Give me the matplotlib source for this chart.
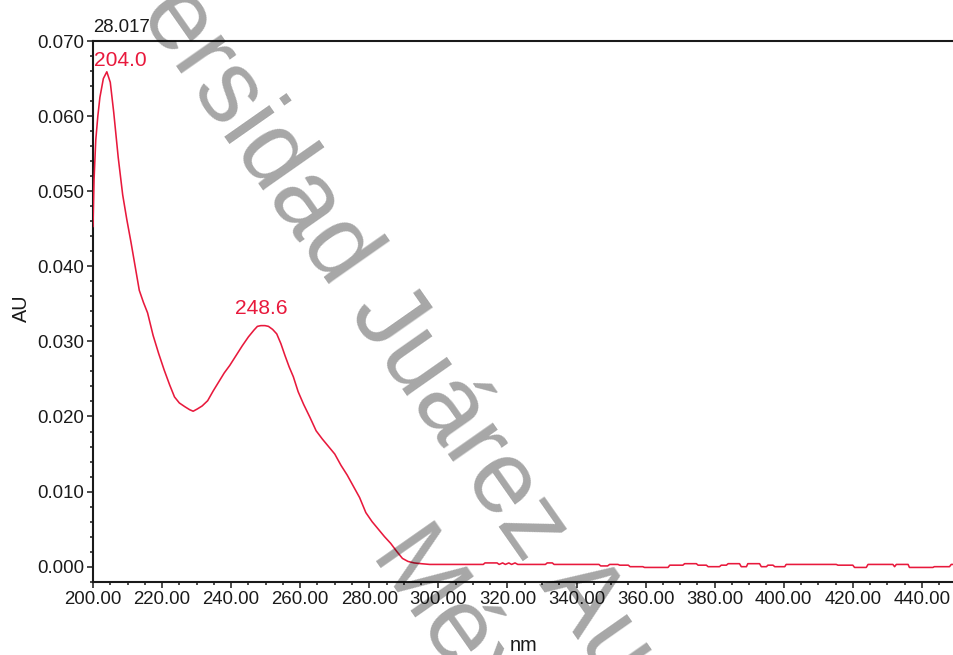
import matplotlib
matplotlib.use("Agg")
import matplotlib.pyplot as plt
from matplotlib import font_manager
from matplotlib.ticker import MultipleLocator, FormatStrFormatter

# UV absorption spectrum (wavelength in nm, absorbance in AU)
wavelength = [
    200.0, 200.3, 200.8, 201.4, 202.0, 203.0, 204.0, 205.0, 206.0, 207.3,
    208.6, 209.8, 211.0, 212.2, 213.4, 214.6, 215.8, 217.4, 219.0, 220.6,
    222.2, 223.6, 225.0, 226.6, 228.0, 229.0, 230.2, 231.6, 233.2, 234.8,
    236.4, 238.0, 239.6, 241.4, 243.2, 245.0, 246.6, 247.6, 248.6, 249.8,
    250.8, 252.0, 253.2, 254.4, 255.6, 256.8, 258.0, 259.4, 261.0, 262.8,
    264.6, 266.4, 268.2, 270.0, 271.8, 273.6, 275.4, 277.2, 279.0, 280.8,
    282.6, 284.4, 286.2, 288.0, 289.6, 291.2, 293.0, 295.0, 297.5, 313.0,
    313.5, 317.0, 317.6, 318.6, 319.4, 320.4, 321.2, 322.2, 323.0, 331.0,
    331.5, 333.0, 333.5, 346.5, 347.0, 349.0, 349.6, 352.0, 352.5, 355.0,
    355.5, 359.2, 359.7, 366.5, 367.0, 370.8, 371.3, 374.7, 375.2, 377.6,
    378.1, 381.4, 381.9, 383.4, 383.9, 387.2, 387.7, 389.2, 389.6, 393.0,
    393.5, 395.0, 395.4, 396.9, 397.4, 400.3, 400.7, 415.2, 415.7, 420.0,
    420.5, 423.9, 424.4, 431.6, 432.1, 432.6, 436.0, 436.4, 443.2, 443.6,
    448.0, 448.5, 449.3,
]
absorbance = [
    0.0453, 0.0515, 0.0568, 0.0600, 0.0625, 0.0650, 0.0659, 0.0645, 0.0605, 0.0545,
    0.0495, 0.0462, 0.0432, 0.0400, 0.0368, 0.0352, 0.0338, 0.0308, 0.0284, 0.0262,
    0.0242, 0.0226, 0.0218, 0.0213, 0.0209, 0.0207, 0.0210, 0.0214, 0.0221, 0.0234,
    0.0246, 0.0258, 0.0268, 0.0281, 0.0294, 0.0306, 0.0315, 0.0320, 0.0321, 0.0321,
    0.0320, 0.0316, 0.0310, 0.0297, 0.0281, 0.0266, 0.0253, 0.0233, 0.0216, 0.0199,
    0.0181, 0.0170, 0.0160, 0.0150, 0.0135, 0.0122, 0.0107, 0.0092, 0.0072, 0.0060,
    0.0050, 0.0040, 0.0031, 0.0020, 0.0011, 0.0007, 0.0005, 0.0004, 0.0003, 0.0003,
    0.0005, 0.0005, 0.0003, 0.0005, 0.0003, 0.0005, 0.0003, 0.0005, 0.0003, 0.0003,
    0.0005, 0.0005, 0.0003, 0.0003, 0.0001, 0.0001, 0.0003, 0.0003, 0.0002, 0.0002,
    0.0000, 0.0000, -0.0001, -0.0001, 0.0002, 0.0002, 0.0004, 0.0004, 0.0002, 0.0002,
    0.0000, 0.0000, 0.0002, 0.0002, 0.0004, 0.0004, 0.0000, 0.0000, 0.0004, 0.0004,
    0.0000, 0.0000, 0.0002, 0.0002, 0.0000, 0.0000, 0.0003, 0.0003, 0.0002, 0.0002,
    -0.0001, -0.0001, 0.0003, 0.0003, 0.0000, 0.0003, 0.0003, -0.0001, -0.0001, 0.0000,
    0.0000, 0.0003, 0.0003,
]

# Labelled maxima
peak_wl = [204.0, 248.6]
peak_au = [0.0659, 0.0321]
peak_offsets = [(9.5, 1.5), (0.5, 5.5)]   # label offsets in points

retention_time = "28.017"
x_ticks = [200, 220, 240, 260, 280, 300, 320, 340, 360, 380, 400, 420, 440]
y_ticks = [0.000, 0.010, 0.020, 0.030, 0.040, 0.050, 0.060, 0.070]

RED = "#e8193c"
INK = "#1a1a1a"

available = {f.name for f in font_manager.fontManager.ttflist}
if "Liberation Sans Narrow" in available:
    label_font, scale = "Liberation Sans Narrow", 1.0
else:
    label_font, scale = "Liberation Sans", 0.84

fig = plt.figure(figsize=(9.54, 6.55), dpi=100)
ax = fig.add_axes([93 / 954, 73 / 655, 861 / 954, 541 / 655])

ax.plot(wavelength, absorbance, color=RED, lw=1.15, solid_joinstyle="round", zorder=3)

ax.set_xlim(200, 449.3)
ax.set_ylim(-0.00204, 0.070)

ax.set_xticks(x_ticks)
ax.set_yticks(y_ticks)
ax.xaxis.set_minor_locator(MultipleLocator(5))
ax.yaxis.set_minor_locator(MultipleLocator(0.002))
ax.xaxis.set_major_formatter(FormatStrFormatter("%.2f"))
ax.yaxis.set_major_formatter(FormatStrFormatter("%.3f"))

for side in ("top", "left", "bottom"):
    ax.spines[side].set_linewidth(1.5)
    ax.spines[side].set_color(INK)
ax.spines["right"].set_visible(False)

ax.tick_params(which="major", direction="out", length=4.3, width=1.1, color=INK,
               labelsize=16 * scale, labelcolor=INK, pad=2)
ax.tick_params(which="minor", direction="out", length=2.2, width=1.1, color=INK)
ax.tick_params(axis="x", which="both", top=False)
ax.tick_params(axis="y", which="both", right=False)
for lab in ax.get_xticklabels() + ax.get_yticklabels():
    lab.set_family(label_font)

ax.set_xlabel("nm", family=label_font, fontsize=17 * scale, color=INK, va="center")
ax.xaxis.set_label_coords(0.5, -0.1165)
ax.set_ylabel("AU", family=label_font, fontsize=17 * scale, color=INK, va="center")
ax.yaxis.set_label_coords(-0.0836, 0.5065)

ax.text(0.0, 1.0166, retention_time, transform=ax.transAxes, ha="left", va="baseline",
        family=label_font, fontsize=16 * scale, color=INK)

for wl, au, off in zip(peak_wl, peak_au, peak_offsets):
    ax.annotate(f"{wl:.1f}", xy=(wl, au), xytext=off, textcoords="offset points",
                ha="center", va="bottom", family=label_font, fontsize=18 * scale,
                color=RED, annotation_clip=False)

# Diagonal institutional watermark
fig.text(20 / 954, 1 + 155 / 655, "Universidad Juárez Autónoma de Tabasco",
         rotation=-55, rotation_mode="anchor", ha="left", va="baseline",
         family="Liberation Sans", fontsize=74, color="black", alpha=0.35, zorder=10)
fig.text(366 / 954, 1 - 560 / 655, "México",
         rotation=-55, rotation_mode="anchor", ha="left", va="baseline",
         family="Liberation Sans", fontsize=74, color="black", alpha=0.35, zorder=10)

fig.savefig("out.png", dpi=100, facecolor="white")
